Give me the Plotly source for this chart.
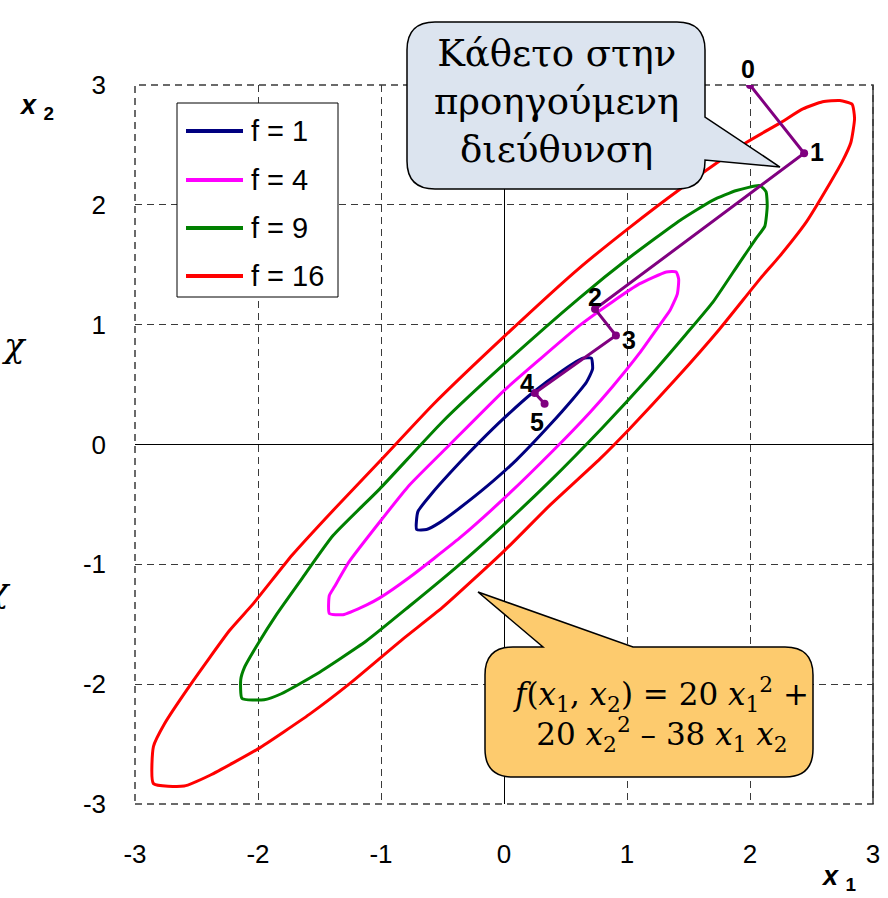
import plotly.graph_objects as go

# contour levels of f(x1, x2) = 20 x1^2 + 20 x2^2 - 38 x1 x2
level_names = ["f = 1", "f = 4", "f = 9", "f = 16"]
level_colors = ["#000080", "#FF00FF", "#008000", "#FF0000"]

f1_x = [-0.71, -0.70, -0.58, -0.36, -0.20, 0.00, 0.23, 0.48, 0.64, 0.71, 0.72, 0.67, 0.56,
        0.37, 0.10, -0.14, -0.36, -0.52, -0.63, -0.71]
f1_y = [-0.71, -0.56, -0.40, -0.15, 0.02, 0.22, 0.43, 0.62, 0.72, 0.72, 0.63, 0.52, 0.38,
        0.16, -0.13, -0.35, -0.53, -0.65, -0.71, -0.71]

f4_x = [-1.42, -1.42, -1.38, -1.26, -0.99, -0.77, -0.44, 0.00, 0.29, 0.61, 0.88, 1.10, 1.32,
        1.40, 1.42, 1.41, 1.35, 1.26, 1.10, 0.88, 0.70, 0.40, 0.00, -0.36, -0.77, -1.01,
        -1.12, -1.31, -1.42]
f4_y = [-1.41, -1.26, -1.19, -0.98, -0.62, -0.34, 0.00, 0.45, 0.71, 0.99, 1.19, 1.34, 1.44,
        1.44, 1.38, 1.26, 1.12, 0.99, 0.76, 0.48, 0.27, -0.05, -0.45, -0.78, -1.11, -1.28,
        -1.34, -1.42, -1.41]

f9_x = [-2.13, -2.14, -2.11, -2.01, -1.85, -1.65, -1.39, -1.01, -0.50, 0.00, 0.61, 1.02, 1.43,
        1.70, 1.89, 2.08, 2.13, 2.14, 2.12, 2.05, 1.91, 1.70, 1.48, 1.16, 0.80, 0.37, 0.00,
        -0.36, -0.77, -1.12, -1.53, -1.81, -1.95, -2.13]
f9_y = [-2.12, -1.96, -1.86, -1.68, -1.42, -1.13, -0.76, -0.37, 0.19, 0.67, 1.22, 1.56, 1.87,
        2.04, 2.12, 2.16, 2.11, 1.99, 1.82, 1.72, 1.51, 1.19, 0.92, 0.54, 0.14, -0.31, -0.67,
        -1.00, -1.35, -1.64, -1.92, -2.08, -2.13, -2.12]

f16_x = [-2.85, -2.85, -2.76, -2.56, -2.23, -2.04, -1.72, -1.39, -1.01, -0.58, 0.00, 0.61, 1.02,
         1.43, 1.97, 2.24, 2.43, 2.59, 2.73, 2.83, 2.85, 2.82, 2.75, 2.65, 2.46, 2.24, 2.08,
         1.75, 1.40, 1.02, 0.78, 0.37, 0.00, -0.50, -0.83, -1.26, -1.58, -2.00, -2.39, -2.60,
         -2.85]
f16_y = [-2.83, -2.52, -2.33, -2.02, -1.55, -1.33, -0.92, -0.55, -0.14, 0.33, 0.90, 1.47, 1.81,
         2.13, 2.52, 2.68, 2.80, 2.86, 2.87, 2.84, 2.72, 2.52, 2.36, 2.18, 1.86, 1.57, 1.38,
         0.96, 0.55, 0.13, -0.12, -0.51, -0.89, -1.36, -1.63, -2.00, -2.25, -2.54, -2.76, -2.85,
         -2.83]

contour_x = [f1_x, f4_x, f9_x, f16_x]
contour_y = [f1_y, f4_y, f9_y, f16_y]

# steepest descent iterates
path_x = [2.00, 2.44, 0.74, 0.91, 0.25, 0.33]
path_y = [3.00, 2.43, 1.13, 0.91, 0.43, 0.34]
path_labels = ["0", "1", "2", "3", "4", "5"]

x_ticks = [-3, -2, -1, 0, 1, 2, 3]
x_tick_labels = ["-3", "-2", "-1", "0", "1", "2", "3"]
y_ticks = [-3, -2, -1, 0, 1, 2, 3]
y_tick_labels = ["-3", "-2", "-1", "0", "1", "2", "3"]

# page geometry (pixels) -> paper coords
W, H = 888, 898
L, R, T, B = 135, 873, 85, 804


def pp(x, y):
    return (x - L) / (R - L), (B - y) / (B - T)


def svg_path(cmds):
    out = []
    for c in cmds:
        if c[0] == "Z":
            out.append("Z")
            continue
        pts = []
        for p in c[1:]:
            a, b = pp(*p)
            pts.append(f"{a:.5f},{b:.5f}")
        out.append(c[0] + " ".join(pts))
    return " ".join(out)


def rounded_box(x0, y0, x1, y1, r, top_tail=None, right_tail=None):
    cmds = [("M", (x0 + r, y0))]
    if top_tail:
        for p in top_tail:
            cmds.append(("L", p))
    cmds += [("L", (x1 - r, y0)), ("Q", (x1, y0), (x1, y0 + r))]
    if right_tail:
        for p in right_tail:
            cmds.append(("L", p))
    cmds += [("L", (x1, y1 - r)), ("Q", (x1, y1), (x1 - r, y1)),
             ("L", (x0 + r, y1)), ("Q", (x0, y1), (x0, y1 - r)),
             ("L", (x0, y0 + r)), ("Q", (x0, y0), (x0 + r, y0)), ("Z",)]
    return svg_path(cmds)


fig = go.Figure()

for xs, ys, name, col in zip(contour_x, contour_y, level_names, level_colors):
    fig.add_trace(go.Scatter(x=xs, y=ys, mode="lines", name=name, showlegend=False,
                             line=dict(color=col, width=3, shape="spline", smoothing=0.5)))

fig.add_trace(go.Scatter(x=path_x, y=path_y, mode="lines+markers", showlegend=False,
                         line=dict(color="#800080", width=3),
                         marker=dict(color="#800080", size=8)))

shapes = []
annotations = []

# plot-area frame: dashed like the grid, right side solid
shapes.append(dict(type="rect", xref="paper", yref="paper", x0=0, y0=0, x1=1, y1=1,
                   line=dict(color="#3a3a3a", width=1.5, dash="7px,5px"), layer="below"))
shapes.append(dict(type="line", xref="paper", yref="paper", x0=1, y0=0, x1=1, y1=1,
                   line=dict(color="#3a3a3a", width=1.5), layer="below"))

# legend drawn by hand (Excel style box)
lx0, ly0, lx1, ly1 = 177, 103, 338, 297
a0, b0 = pp(lx0, ly0)
a1, b1 = pp(lx1, ly1)
shapes.append(dict(type="rect", xref="paper", yref="paper", x0=a0, y0=b1, x1=a1, y1=b0,
                   fillcolor="white", line=dict(color="black", width=1), layer="above"))
row_y = [131, 180, 228, 276]
for yy, name, col in zip(row_y, level_names, level_colors):
    s0 = pp(186, yy)
    s1 = pp(243, yy)
    shapes.append(dict(type="line", xref="paper", yref="paper", x0=s0[0], y0=s0[1],
                       x1=s1[0], y1=s1[1], line=dict(color=col, width=4), layer="above"))
    t = pp(249, yy)
    annotations.append(dict(xref="paper", yref="paper", x=t[0], y=t[1], text=name,
                            showarrow=False, xanchor="left", yanchor="middle",
                            font=dict(size=29, color="black")))

# callouts
shapes.append(dict(type="path", xref="paper", yref="paper", layer="above",
                   path=rounded_box(407, 22, 705, 189, 28,
                                    right_tail=[(705, 117), (780, 167), (705, 160)]),
                   fillcolor="#DCE4EF", line=dict(color="black", width=1.5)))
shapes.append(dict(type="path", xref="paper", yref="paper", layer="above",
                   path=rounded_box(485, 647, 813, 777, 28,
                                    top_tail=[(543, 647), (478, 592), (633, 647)]),
                   fillcolor="#FDCB6E", line=dict(color="black", width=1.5)))

c = pp(556, 102)
annotations.append(dict(xref="paper", yref="paper", x=c[0], y=c[1],
                        text="Κάθετο στην<br>προηγούμενη<br>διεύθυνση",
                        showarrow=False, xanchor="center", yanchor="middle",
                        font=dict(family="DejaVu Serif", size=37, color="black")))
c = pp(661, 714)
annotations.append(dict(xref="paper", yref="paper", x=c[0], y=c[1],
                        text="<i>f</i>(<i>x</i><sub>1</sub>, <i>x</i><sub>2</sub>) = 20 "
                             "<i>x</i><sub>1</sub><sup>2</sup> +<br>20 <i>x</i><sub>2</sub>"
                             "<sup>2</sup> – 38 <i>x</i><sub>1</sub> <i>x</i><sub>2</sub>",
                        showarrow=False, xanchor="center", yanchor="middle",
                        font=dict(family="DejaVu Serif", size=31, color="black")))

# iterate numbers
label_shift = [(-2, 16), (13, 1), (0, 12), (13, -5), (-8, 10), (-8, -18)]
for xx, yy, lab, (dx, dy) in zip(path_x, path_y, path_labels, label_shift):
    annotations.append(dict(x=xx, y=yy, text=f"<b>{lab}</b>", showarrow=False,
                            xanchor="center", yanchor="middle",
                            xshift=dx, yshift=dy, font=dict(size=25, color="black")))

# axis titles
c = pp(36, 107)
annotations.append(dict(xref="paper", yref="paper", x=c[0], y=c[1],
                        text="<b><i>x</i> <sub>2</sub></b>", showarrow=False,
                        xanchor="center", yanchor="middle",
                        font=dict(size=27, color="black")))
c = pp(838, 897)
annotations.append(dict(xref="paper", yref="paper", x=c[0], y=c[1],
                        text="<b><i>x</i> <sub>1</sub></b>", showarrow=False,
                        xanchor="center", yanchor="bottom",
                        font=dict(size=27, color="black")))

# clipped slide text at the left edge
for px_, py_ in [(14, 345), (-2, 590)]:
    c = pp(px_, py_)
    annotations.append(dict(xref="paper", yref="paper", x=c[0], y=c[1], text="<i>χ</i>",
                            showarrow=False, xanchor="center", yanchor="middle",
                            font=dict(family="DejaVu Serif", size=34, color="black")))

axis_common = dict(range=[-3, 3], showgrid=True, gridcolor="#3a3a3a", gridwidth=1,
                   griddash="7px,5px", zeroline=True, zerolinecolor="black",
                   zerolinewidth=1, showline=False, ticks="",
                   tickfont=dict(size=26, color="black"))

fig.update_layout(
    width=W, height=H,
    margin=dict(l=L, r=W - R, t=T, b=H - B),
    paper_bgcolor="white", plot_bgcolor="white",
    font=dict(family="Liberation Sans, Arial, sans-serif", color="black"),
    showlegend=False,
    xaxis=dict(axis_common, tickvals=x_ticks, ticktext=x_tick_labels,
               ticklabelstandoff=32, automargin=False),
    yaxis=dict(axis_common, tickvals=y_ticks, ticktext=y_tick_labels,
               ticklabelstandoff=28, automargin=False),
    shapes=shapes,
    annotations=annotations,
)

fig.write_html("out.html", config={"displayModeBar": False},
               post_script="document.body.style.margin='0';document.body.style.padding='0';")
